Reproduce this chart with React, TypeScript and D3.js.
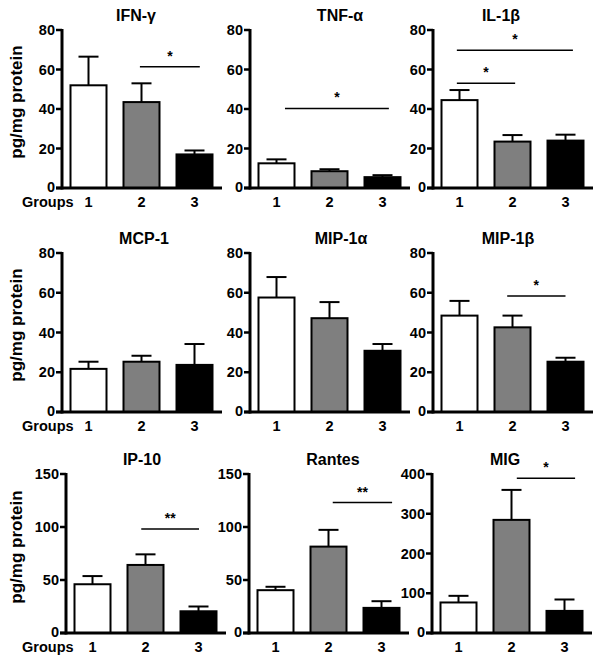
import React from "react";
import * as d3 from "d3";

const groups = ["1", "2", "3"];
const titles = ["IFN-γ", "TNF-α", "IL-1β", "MCP-1", "MIP-1α", "MIP-1β", "IP-10", "Rantes", "MIG"];
const means = [
  [52, 43.5, 17],
  [12.5, 8.5, 5.5],
  [44.5, 23.5, 24],
  [21.7, 25.3, 23.7],
  [57.6, 47.2, 30.8],
  [48.5, 42.6, 25.3],
  [46, 64.2, 20.5],
  [40.4, 81.5, 23.7],
  [76.8, 284.6, 55.6],
];
const errs = [
  [66.5, 53, 19],
  [14.5, 9.5, 6.5],
  [49.6, 26.8, 27],
  [25.3, 28.3, 34.2],
  [67.9, 55.3, 34.2],
  [55.9, 48.5, 27.3],
  [53.7, 74.2, 25],
  [43.6, 97.3, 30],
  [93.5, 360, 84.3],
];
const yMax = [80, 80, 80, 80, 80, 80, 150, 150, 400];
const yTicks = [
  [0, 20, 40, 60, 80],
  [0, 20, 40, 60, 80],
  [0, 20, 40, 60, 80],
  [0, 20, 40, 60, 80],
  [0, 20, 40, 60, 80],
  [0, 20, 40, 60, 80],
  [0, 50, 100, 150],
  [0, 50, 100, 150],
  [0, 100, 200, 300, 400],
];
// significance brackets: [panel, fromGroup, toGroup, yValue, label]
const sigs: [number, number, number, number, string][] = [
  [0, 1.97, 3.1, 61.4, "*"],
  [1, 1.16, 3.12, 40.3, "*"],
  [2, 0.95, 3.14, 69.8, "*"],
  [2, 0.95, 2.05, 53, "*"],
  [5, 1.9, 3.0, 58.4, "*"],
  [6, 1.92, 3.01, 98, "**"],
  [7, 2.08, 3.2, 123, "**"],
  [8, 2.1, 3.2, 389, "*"],
];

const fills = ["#ffffff", "#7f7f7f", "#000000"];
const FONT = "'Liberation Sans', Arial, Helvetica, sans-serif";

// layout
const axisX = [62, 250, 433, 62, 250, 433, 66, 249, 432];
const rowTop = [30, 253, 474];
const rowBottom = [188, 412, 633];
const titleX = [136, 340, 501, 144, 341, 508, 142, 333, 505];
const yLabelCenter = [102, 325, 547];

function Panel({ i }: { i: number }) {
  const row = Math.floor(i / 3);
  const A = axisX[i];
  const top = rowTop[row];
  const bottom = rowBottom[row];
  const y = d3.scaleLinear().domain([0, yMax[i]]).range([bottom, top]);
  const x = d3.scalePoint<string>().domain(groups).range([A, A + 159]).padding(0.5);
  const step = x.step();
  const gx = (g: number) => (x("1") as number) + (g - 1) * step;
  const bw = 36;
  const capW = 20;
  return (
    <g>
      <text x={titleX[i]} y={top - 9} textAnchor="middle" fontSize={16} fontWeight="bold" fontFamily={FONT}>
        {titles[i]}
      </text>
      {groups.map((g, k) => {
        const cx = x(g) as number;
        return (
          <g key={g}>
            <line x1={cx} x2={cx} y1={y(means[i][k])} y2={y(errs[i][k])} stroke="#000" strokeWidth={2} />
            <line x1={cx - capW / 2} x2={cx + capW / 2} y1={y(errs[i][k])} y2={y(errs[i][k])} stroke="#000" strokeWidth={2} />
            <rect
              x={cx - bw / 2}
              y={y(means[i][k])}
              width={bw}
              height={bottom - y(means[i][k])}
              fill={fills[k]}
              stroke="#000"
              strokeWidth={2}
            />
            <text x={cx} y={bottom + 18.5} textAnchor="middle" fontSize={14.5} fontWeight="bold" fontFamily={FONT}>
              {g}
            </text>
          </g>
        );
      })}
      {/* axes */}
      <line x1={A} x2={A} y1={top - 1} y2={bottom + 1.5} stroke="#000" strokeWidth={3} />
      <line x1={A - 6} x2={A + 160} y1={bottom} y2={bottom} stroke="#000" strokeWidth={3} />
      {yTicks[i].map((t) => (
        <g key={t}>
          <line x1={A - 6} x2={A} y1={y(t)} y2={y(t)} stroke="#000" strokeWidth={2.5} />
          <text x={A - 7} y={y(t) + (t === 0 ? 4 : 5)} textAnchor="end" fontSize={14.5} fontWeight="bold" fontFamily={FONT}>
            {t}
          </text>
        </g>
      ))}
      {sigs
        .filter((s) => s[0] === i)
        .map((s, k) => {
          const x1 = gx(s[1]);
          const x2 = gx(s[2]);
          const yy = y(s[3]);
          return (
            <g key={k}>
              <line x1={x1} x2={x2} y1={yy} y2={yy} stroke="#000" strokeWidth={1.5} />
              <text x={(x1 + x2) / 2} y={yy - 6} textAnchor="middle" fontSize={14} fontWeight="bold" fontFamily={FONT}>
                {s[4]}
              </text>
            </g>
          );
        })}
    </g>
  );
}

export default function App() {
  return (
    <svg width={600} height={662} style={{ position: "absolute", left: 0, top: 0, background: "#fff" }}>
      <rect x={0} y={0} width={600} height={662} fill="#fff" />
      {[0, 1, 2].map((r) => (
        <g key={r}>
          <text
            transform={`translate(22,${yLabelCenter[r]}) rotate(-90)`}
            textAnchor="middle"
            fontSize={17}
            fontWeight="bold"
            fontFamily={FONT}
          >
            pg/mg protein
          </text>
          <text x={22} y={rowBottom[r] + 19} fontSize={14.5} fontWeight="bold" fontFamily={FONT}>
            Groups
          </text>
        </g>
      ))}
      {titles.map((_, i) => (
        <Panel key={i} i={i} />
      ))}
    </svg>
  );
}
